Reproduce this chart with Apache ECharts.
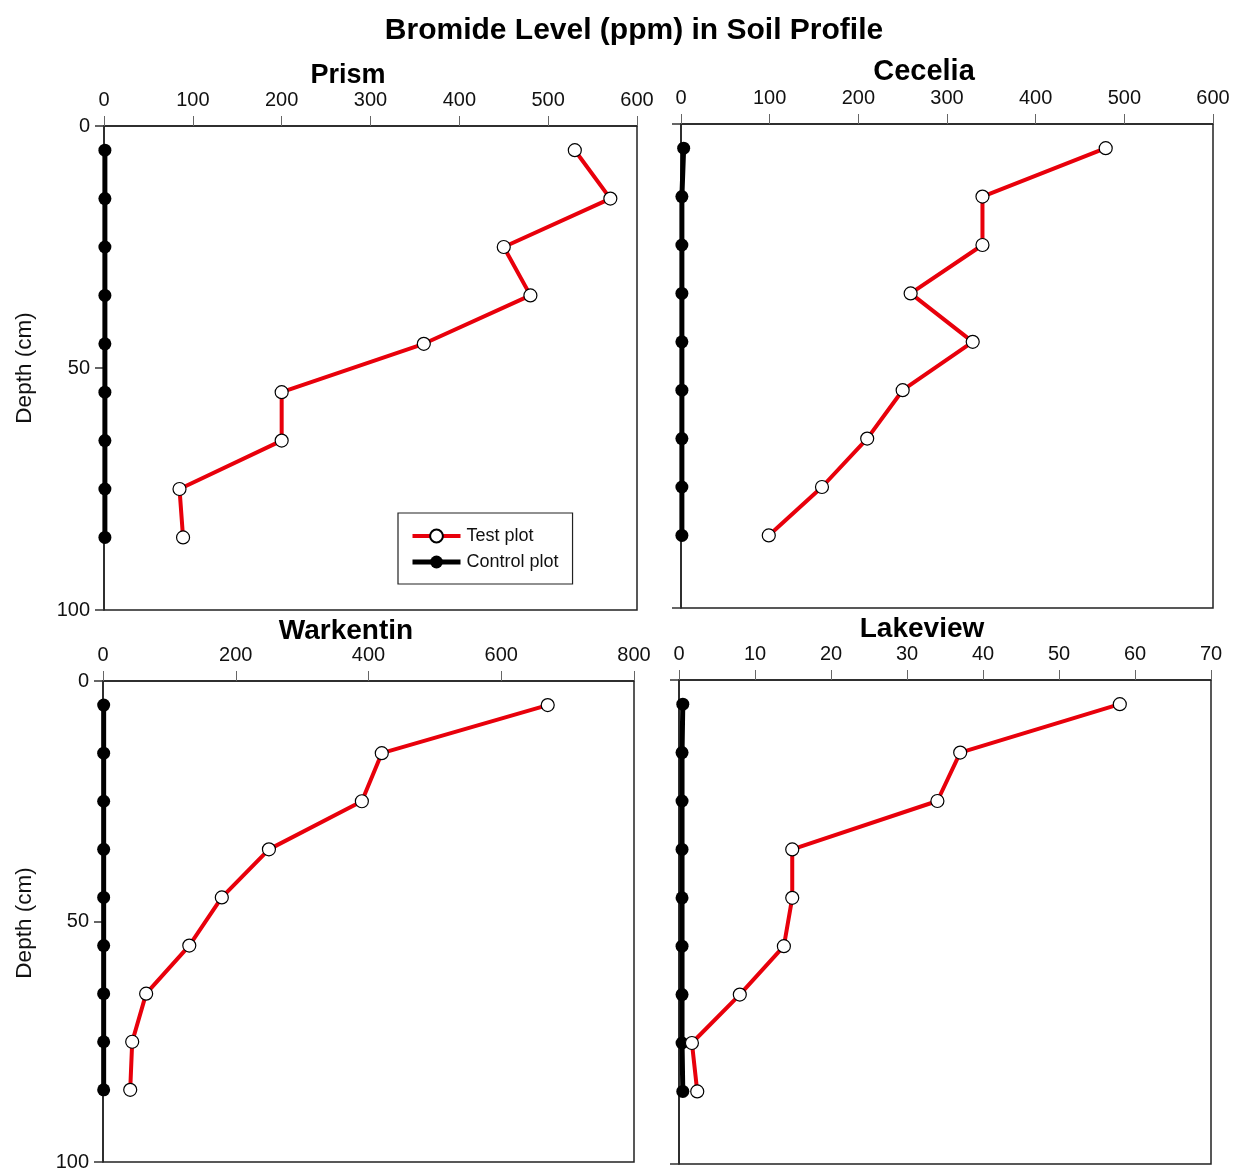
<!DOCTYPE html>
<html><head><meta charset="utf-8">
<script src="https://cdn.jsdelivr.net/npm/echarts@6/dist/echarts.min.js"></script>
<style>html,body{margin:0;padding:0;background:#fff;}#c{width:1233px;height:1172px;}</style>
</head><body><div id="c"></div>
<script>
const depths = [5, 15, 25, 35, 45, 55, 65, 75, 85];
const panelNames = ['Prism', 'Cecelia', 'Warkentin', 'Lakeview'];
const prismTest = [530, 570, 450, 480, 360, 200, 200, 85, 89];
const prismControl = [1, 1, 1, 1, 1, 1, 1, 1, 1];
const ceceliaTest = [479, 340, 340, 259, 329, 250, 210, 159, 99];
const ceceliaControl = [3, 1, 1, 1, 1, 1, 1, 1, 1];
const warkentinTest = [670, 420, 390, 250, 179, 130, 65, 44, 41];
const warkentinControl = [1, 1, 1, 1, 1, 1, 1, 1, 1];
const lakeviewTest = [58, 37, 34, 14.9, 14.9, 13.8, 8, 1.7, 2.4];
const lakeviewControl = [0.5, 0.4, 0.4, 0.4, 0.4, 0.4, 0.4, 0.4, 0.5];
const xMax = [600, 600, 800, 70];
const xInterval = [100, 100, 200, 10];
const depthTicks = [0, 50, 100];
const edgeTicks = [0, 100];

const tests = [prismTest, ceceliaTest, warkentinTest, lakeviewTest];
const controls = [prismControl, ceceliaControl, warkentinControl, lakeviewControl];

const grids = [
  {left: 104, top: 126, width: 533, height: 484},
  {left: 681, top: 124, width: 532, height: 484},
  {left: 103, top: 681, width: 531, height: 484},
  {left: 679, top: 680, width: 532, height: 484}
];
const titlePos = [[348, 76], [924, 72], [346, 631], [922, 629]];

const FONT = '"Liberation Sans", Arial, sans-serif';
const chart = echarts.init(document.getElementById('c'), null, {renderer: 'canvas'});

const grid = [], xAxis = [], yAxis = [], series = [];
for (let i = 0; i < 4; i++) {
  const leftPanel = i % 2 === 0;
  grid.push(Object.assign({show: true, borderColor: '#222', borderWidth: 1.5, backgroundColor: 'transparent'}, grids[i]));
  xAxis.push({
    type: 'value', gridIndex: i, position: 'top', min: 0, max: xMax[i], interval: xInterval[i],
    axisLine: {show: true, onZero: false, lineStyle: {color: '#222', width: 1.5}},
    axisTick: {show: true, inside: false, length: 10, lineStyle: {color: '#666', width: 1}},
    axisLabel: {show: true, margin: 16, fontFamily: FONT, fontSize: 20, color: '#111'},
    splitLine: {show: false}
  });
  yAxis.push({
    type: 'value', gridIndex: i, inverse: true, min: 0, max: 100, interval: 50,
    axisLine: {show: true, onZero: false, lineStyle: {color: '#222', width: 1.5}},
    axisTick: {show: true, inside: false, length: 9, lineStyle: {color: '#333', width: 1.5},
      customValues: leftPanel ? depthTicks : edgeTicks},
    axisLabel: {show: leftPanel, margin: 14, fontFamily: FONT, fontSize: 20, color: '#111'},
    splitLine: {show: false}
  });
  series.push({
    name: 'Control plot', type: 'line', xAxisIndex: i, yAxisIndex: i,
    data: depths.map((d, k) => [controls[i][k], d]),
    symbol: 'circle', symbolSize: 13,
    lineStyle: {color: '#000', width: 5},
    itemStyle: {color: '#000', borderColor: '#000', borderWidth: 0},
    animation: false, z: 3
  });
  series.push({
    name: 'Test plot', type: 'line', xAxisIndex: i, yAxisIndex: i,
    data: depths.map((d, k) => [tests[i][k], d]),
    symbol: 'circle', symbolSize: 13, showAllSymbol: true,
    lineStyle: {color: '#e8000b', width: 4},
    itemStyle: {color: '#fff', borderColor: '#000', borderWidth: 1.2},
    animation: false, z: 4
  });
}

const graphic = [
  {type: 'text', x: 634, y: 31, style: {text: 'Bromide Level (ppm) in Soil Profile', font: 'bold 30px ' + FONT, fill: '#000', textAlign: 'center', textVerticalAlign: 'middle'}},
  {type: 'text', x: 25, y: 368, rotation: Math.PI / 2, style: {text: 'Depth (cm)', font: '22.5px ' + FONT, fill: '#111', textAlign: 'center', textVerticalAlign: 'middle'}},
  {type: 'text', x: 25, y: 923, rotation: Math.PI / 2, style: {text: 'Depth (cm)', font: '22.5px ' + FONT, fill: '#111', textAlign: 'center', textVerticalAlign: 'middle'}}
];
const titleSizes = [27, 29, 28, 28];
for (let i = 0; i < 4; i++) {
  graphic.push({type: 'text', x: titlePos[i][0], y: titlePos[i][1], style: {text: panelNames[i], font: 'bold ' + titleSizes[i] + 'px ' + FONT, fill: '#000', textAlign: 'center', textVerticalAlign: 'middle'}});
}

chart.setOption({
  animation: false,
  backgroundColor: '#fff',
  grid, xAxis, yAxis, series, graphic,
  legend: {
    data: [
      {name: 'Test plot', lineStyle: {width: 4, color: '#e8000b'}},
      {name: 'Control plot', lineStyle: {width: 5, color: '#000'}}
    ],
    orient: 'vertical', left: 398, top: 513,
    padding: [14, 14, 13, 12], itemGap: 8,
    itemWidth: 48, itemHeight: 16,
    borderColor: '#222', borderWidth: 1.2, backgroundColor: '#fff',
    selectedMode: false,
    textStyle: {fontFamily: FONT, fontSize: 18, color: '#111', padding: [0, 0, 0, 1]}
  }
});
</script></body></html>
